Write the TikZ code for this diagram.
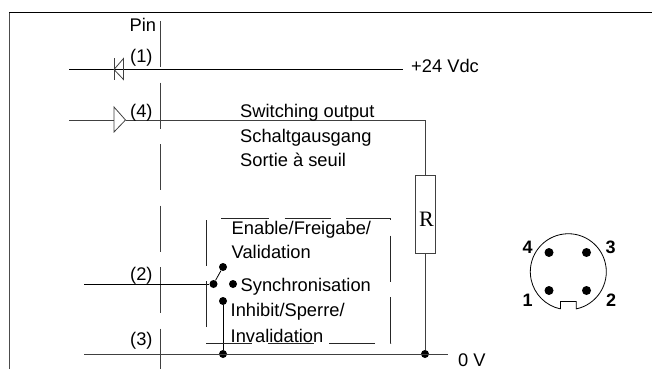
\documentclass[tikz,border=0pt]{standalone}
\usepackage{fontspec}
\setmainfont{Liberation Sans}
\newfontfamily\timesfont{Liberation Serif}
\usetikzlibrary{calc}
\tikzset{
    wire/.style={line width=0.8pt, black!75},
    thinwire/.style={line width=0.8pt, black},
    dot/.style={circle, fill=black, inner sep=0pt, minimum size=8pt},
    pindot/.style={circle, fill=black, inner sep=0pt, minimum size=9pt},
    txt/.style={inner sep=0pt, anchor=base west, font=\fontsize{18.3}{20}\selectfont},
    pinnum/.style={inner sep=0pt, anchor=center, font=\fontsize{18}{20}\selectfont\bfseries}
}

\begin{document}
\begin{tikzpicture}[x=1pt, y=-1pt]
        \useasboundingbox (0,0) rectangle (652,369);

        % frame
        \draw[line width=0.8pt, black!70] (9,369) -- (9,12.5);
        \draw[line width=0.8pt, black] (9,12.5) -- (652,12.5);

        % pin line
        \draw[wire, dash pattern=on 46pt off 15.5pt] (160,21) -- (160,369);

        % end points
        \coordinate (inone) at (69,69.5);
        \coordinate (vdc) at (403,69.5);
        \coordinate (infour) at (69,120);
        \coordinate (corner) at (425,120);
        \coordinate (intwo) at (84,284);
        \coordinate (inthree) at (84,354);
        \coordinate (gnd) at (448,354);

        % diode and driver
        \coordinate (diodein) at (114,69.5);
        \coordinate (drvin) at (114,120);
        \coordinate (drvout) at (125.5,120);
        \draw[thinwire] (inone) -- (vdc);
        \draw[wire] (114,58) -- (114,79.5);
        \draw[wire] (diodein) -- (123.5,58.5) -- (123.5,79.5) -- cycle;
        \draw[wire] (114,107) -- (drvout) -- (114,132) -- cycle;

        % resistor
        \node[draw=black!75, line width=0.8pt, minimum width=20pt, minimum height=78.5pt, inner sep=0pt] (res) at (425.5,214.5) {};
        \node[font=\timesfont\fontsize{22}{24}\selectfont, inner sep=0pt] (rlabel) at (426.5,219) {R};

        \draw[wire] (infour) -- (drvin);
        \draw[wire] (drvout) -- (corner) -- (res.north -| corner);
        \node[dot] (jres) at (425,354) {};
        \draw[wire] (res.south -| jres) -- (jres);

        % switch
        \node[dot] (swcom) at (213.5,284) {};
        \node[dot] (swen) at (223,267) {};
        \node[dot] (swsync) at (233,284) {};
        \node[dot] (swinh) at (223,301) {};
        \node[dot] (jsw) at (223,354) {};
        \draw[thinwire] (intwo) -- (swcom);
        \draw[thinwire] (swcom) -- (swen);
        \draw[thinwire] (swinh) -- (jsw);
        \draw[wire] (inthree) -- (gnd);

        % dashed box
        \draw[line width=0.8pt, black!85, dash pattern=on 46pt off 15.5pt] (223,218.5) -- (390.5,218.5) -- (390.5,343) -- (206.5,343) -- (206.5,218.5) -- (223,218.5);

        % labels
        \node[txt] (pin) at (129.5,32) {Pin};
        \node[txt] (lone) at (130,63) {(1)};
        \node[txt] (lfour) at (130,117) {(4)};
        \node[txt] (ltwo) at (130,280.5) {(2)};
        \node[txt] (lthree) at (130,345.5) {(3)};
        \node[txt] (lvdc) at (411,72.7) {+24 Vdc};
        \node[txt, text depth=0pt] (lzero) at (458,366.5) {0 V};
        \node[txt] (tswitch) at (240,117.3) {Switching output};
        \node[txt] (tschalt) at (240,142) {Schaltgausgang};
        \node[txt] (tsortie) at (240,166.7) {Sortie à seuil};
        \node[txt] (tenable) at (231.5,234.3) {Enable/Freigabe/};
        \node[txt] (tvalid) at (231.5,258.3) {Validation};
        \node[txt] (tsync) at (240.5,291) {Synchronisation};
        \node[txt] (tinhibit) at (230.5,316) {Inhibit/Sperre/};
        \node[txt] (tinval) at (230.5,342.7) {Invalidation};

        % connector
        \coordinate (plug) at (568.3,271.7);
        \draw[thinwire] ($(plug)+(-7.9,37.2)$) -- ++(0,-7.5) -- ++(15.8,0) -- ++(0,7.5)
            arc[start angle=-78, end angle=258, radius=38pt];
        \node[pindot] (pfour) at (549,252.5) {};
        \node[pindot] (pthree) at (586.5,252.5) {};
        \node[pindot] (pone) at (549,290.5) {};
        \node[pindot] (ptwo) at (586.5,290.5) {};
        \node[pinnum] (nfour) at (527.7,247) {4};
        \node[pinnum] (nthree) at (610.7,247) {3};
        \node[pinnum] (none) at (527.7,300) {1};
        \node[pinnum] (ntwo) at (611,300) {2};
    \end{tikzpicture}
\end{document}
